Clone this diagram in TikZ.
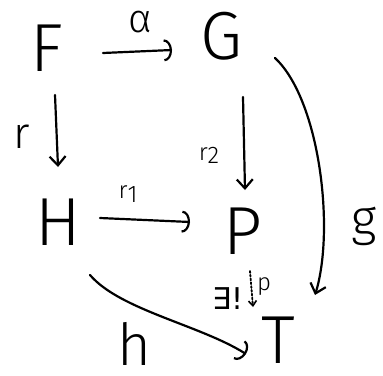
\documentclass[tikz,border=0pt]{standalone}
\usepackage{fontspec}
\setmainfont{Fira Sans Light}
\newfontfamily\dv{DejaVu Sans}
\usetikzlibrary{arrows.meta,calc}
\begin{document}
\begin{tikzpicture}[x=1pt,y=-1pt,
  obj/.style={inner sep=0pt, font=\fontsize{68}{68}\selectfont},
  lbl/.style={inner sep=0pt, font=\fontsize{#1}{#1}\selectfont},
  lbl/.default=28,
  ar/.style={line width=2.2pt, line cap=round, -{Straight Barb[length=9pt,width=16pt,line width=2.2pt]}},
  hk/.style={line width=2.2pt, line cap=round, -{Arc Barb[length=8pt,width=22pt,line width=2.2pt]}},
  dt/.style={line width=1.8pt, line cap=round, dotted, -{Straight Barb[length=5pt,width=8pt,line width=1.6pt]}},
]
\useasboundingbox (0,0) rectangle (383,375);
\node[obj] (F) at (47,48) {F};
\node[obj] (G) at (222,36) {G};
\node[obj] (H) at (58,222) {H};
\node[obj] (P) at (243,231) {P};
\node[obj] (T) at (278,340) {T};
% arrows
\draw[hk] ($(F)+(56,5)$) -- ($(G)+(-50,14)$);
\draw[ar] ($(F)+(8,47)$) -- ($(H)+(0,-55)$);
\draw[ar] ($(G)+(21,61)$) -- ($(P)+(2,-41)$);
\draw[hk] ($(H)+(42,-4)$) -- ($(P)+(-53,-9)$);
\draw[ar] ($(G)+(53,22)$) .. controls ($(G)+(98,64)$) and ($(T)+(57,-110)$) .. ($(T)+(37,-45)$);
\draw[hk] ($(H)+(32,53)$) .. controls ($(H)+(62,88)$) and ($(T)+(-78,-15)$) .. ($(T)+(-32,14)$);
\draw[dt] ($(P)+(7,40)$) -- ($(P)+(10,76)$);
% labels
\node[lbl=40] (la) at (140,22) {α};
\node[lbl=44] (lr) at (22,137) {r};
\node[lbl=24] (lr2) at (209,155) {r\raisebox{-3pt}{2}};
\node[lbl=24] (lr1) at (128,194) {r\raisebox{-4pt}{1}};
\node[lbl=50] (lg) at (364,226) {g};
\node[lbl=58] (lh) at (134,344) {h};
\node[lbl=30] (le) at (228,299) {\dv ∃!};
\node[lbl=24] (lp) at (264,287) {p};
\end{tikzpicture}
\end{document}
